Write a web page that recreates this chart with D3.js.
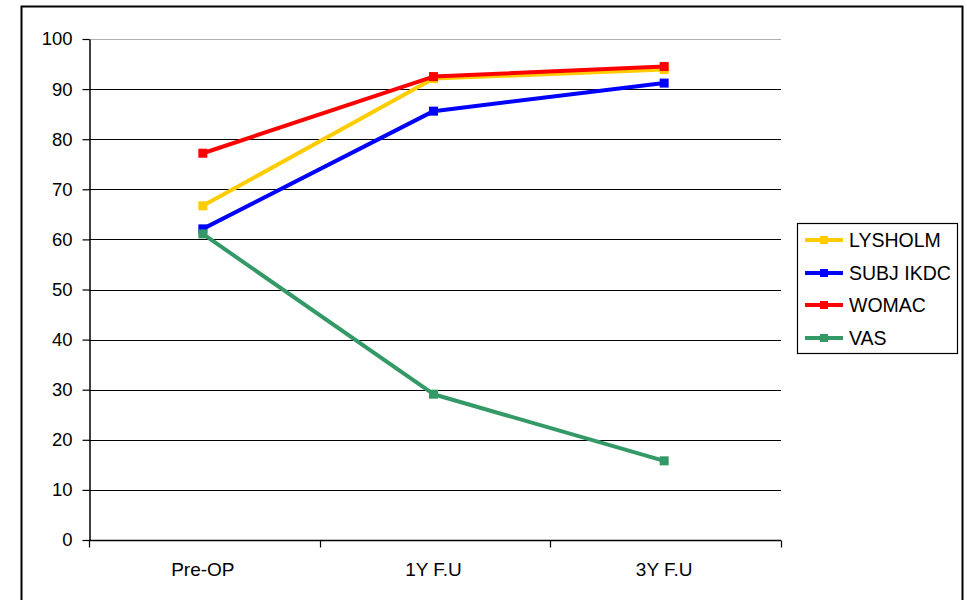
<!DOCTYPE html>
<html>
<head>
<meta charset="utf-8">
<script src="https://cdn.jsdelivr.net/npm/d3@7"></script>
<style>
  html, body { margin: 0; padding: 0; background: #fff; }
  svg { display: block; font-family: "Liberation Sans", Arial, sans-serif; }
</style>
</head>
<body>
<svg id="chart" width="967" height="600"></svg>
<script>
// Follow-up time points
const categories = ["Pre-OP", "1Y F.U", "3Y F.U"];

// Score series per time point
const lysholm = [66.7, 92.1, 93.9];
const subjIkdc = [62.1, 85.6, 91.2];
const womac = [77.2, 92.5, 94.5];
const vas = [61.1, 29.1, 15.8];

const seriesNames = ["LYSHOLM", "SUBJ IKDC", "WOMAC", "VAS"];
const seriesColors = ["#ffcc00", "#0000ff", "#ff0000", "#339966"];
const seriesValues = [lysholm, subjIkdc, womac, vas];

const yTicks = [0, 10, 20, 30, 40, 50, 60, 70, 80, 90, 100];

const svg = d3.select("#chart");

// Outer chart frame
svg.append("rect")
  .attr("x", 21.5).attr("y", 6.5)
  .attr("width", 941).attr("height", 610)
  .attr("fill", "none").attr("stroke", "#000").attr("stroke-width", 2);

const plot = { left: 89, right: 781, top: 39, bottom: 540 };

const x = d3.scaleBand().domain(categories).range([plot.left, plot.right]);
const y = d3.scaleLinear().domain([0, 100]).range([plot.bottom, plot.top]);
const cx = c => x(c) + x.bandwidth() / 2 - 1.5;

// Horizontal gridlines
svg.append("g")
  .selectAll("line")
  .data(yTicks.filter(t => t > 0))
  .join("line")
  .attr("x1", plot.left).attr("x2", plot.right)
  .attr("y1", d => Math.round(y(d)) + 0.5).attr("y2", d => Math.round(y(d)) + 0.5)
  .attr("stroke", d => d === 100 ? "#b0b0b0" : "#000")
  .attr("stroke-width", 1);

// Y axis
const yAxis = svg.append("g")
  .attr("transform", `translate(${plot.left + 0.5},0)`)
  .call(d3.axisLeft(y).tickValues(yTicks).tickSize(7).tickPadding(10).tickSizeOuter(0));
yAxis.select(".domain").attr("stroke", "#000").attr("stroke-width", 1.5);
yAxis.selectAll(".tick line").attr("stroke", "#000").attr("stroke-width", 1.2);
yAxis.selectAll(".tick text")
  .attr("font-size", 18.5).attr("fill", "#000")
  .attr("font-family", "'Liberation Sans', Arial, sans-serif");

// X axis with ticks between categories
const xAxisG = svg.append("g")
  .attr("transform", `translate(0,${plot.bottom + 0.5})`);
xAxisG.append("line")
  .attr("x1", plot.left).attr("x2", plot.right)
  .attr("stroke", "#000").attr("stroke-width", 1.5);
const boundaries = categories.map(c => x(c)).concat([x(categories[categories.length - 1]) + x.bandwidth()]);
xAxisG.selectAll("line.tk")
  .data(boundaries)
  .join("line")
  .attr("class", "tk")
  .attr("x1", d => Math.round(d) + 0.5).attr("x2", d => Math.round(d) + 0.5)
  .attr("y1", 0).attr("y2", 7)
  .attr("stroke", "#000").attr("stroke-width", 1.2);
xAxisG.selectAll("text")
  .data(categories)
  .join("text")
  .attr("x", d => cx(d))
  .attr("y", 35)
  .attr("text-anchor", "middle")
  .attr("font-size", 19)
  .attr("fill", "#000")
  .text(d => d);

// Series lines and square markers
const line = d3.line()
  .x((d, i) => cx(categories[i]))
  .y(d => y(d));

seriesValues.forEach((vals, si) => {
  const g = svg.append("g");
  g.append("path")
    .datum(vals)
    .attr("d", line)
    .attr("fill", "none")
    .attr("stroke", seriesColors[si])
    .attr("stroke-width", 4)
    .attr("stroke-linejoin", "round");
  g.selectAll("rect")
    .data(vals)
    .join("rect")
    .attr("x", (d, i) => cx(categories[i]) - 4.5)
    .attr("y", d => y(d) - 4.5)
    .attr("width", 9).attr("height", 9)
    .attr("fill", seriesColors[si]);
});

// Legend
const legend = svg.append("g");
legend.append("rect")
  .attr("x", 797.5).attr("y", 223.5)
  .attr("width", 160).attr("height", 130)
  .attr("fill", "#fff").attr("stroke", "#000").attr("stroke-width", 1.2);
const rowY = [240, 273, 305, 338];
seriesNames.forEach((name, i) => {
  const ly = rowY[i];
  legend.append("line")
    .attr("x1", 805).attr("x2", 843)
    .attr("y1", ly).attr("y2", ly)
    .attr("stroke", seriesColors[i]).attr("stroke-width", 4);
  legend.append("rect")
    .attr("x", 820).attr("y", ly - 4)
    .attr("width", 8).attr("height", 8)
    .attr("fill", seriesColors[i]);
  legend.append("text")
    .attr("x", 849).attr("y", ly)
    .attr("dy", "0.35em")
    .attr("font-size", 19.5)
    .attr("fill", "#000")
    .text(name);
});
</script>
</body>
</html>
